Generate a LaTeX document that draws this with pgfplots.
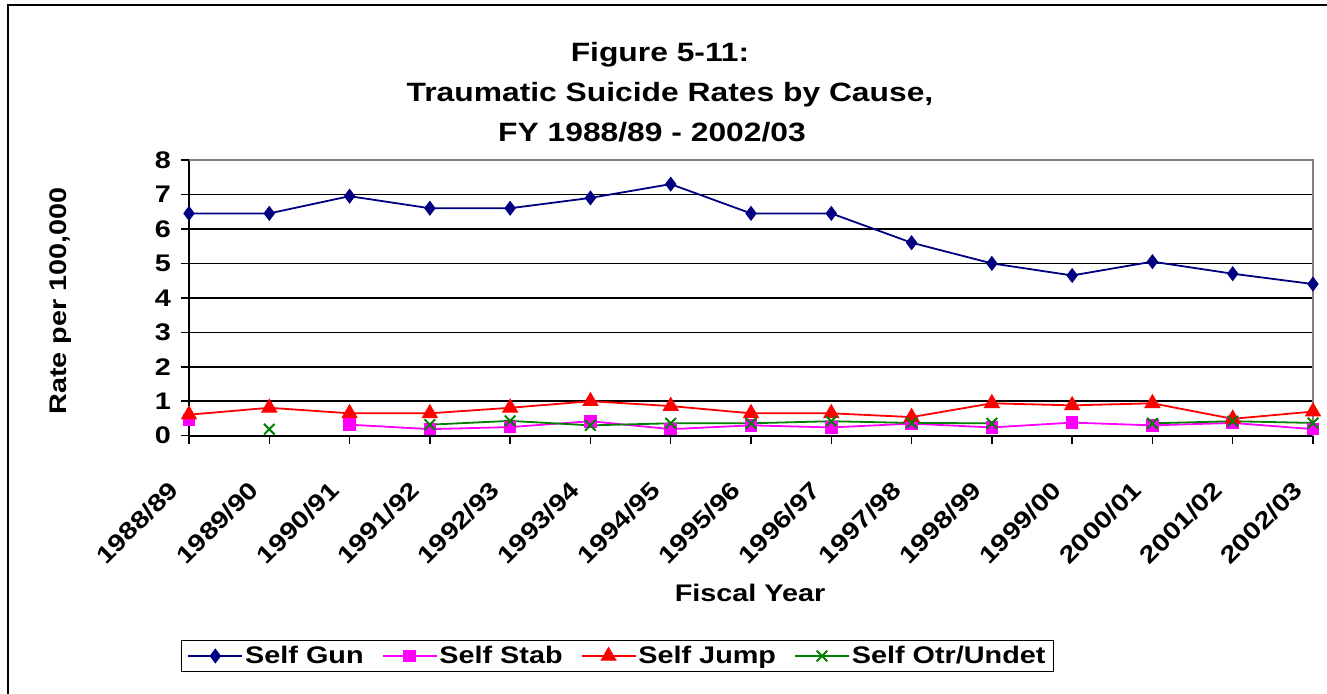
\documentclass[border=0pt]{standalone}
\usepackage{fontspec}
\setmainfont{Liberation Sans}[FakeStretch=1.2]
\usepackage{pgfplots}
\pgfplotsset{compat=1.18}
\usepackage{pgfplotstable}
\definecolor{gunblue}{RGB}{0,0,128}
\definecolor{otrgreen}{RGB}{0,128,0}
\definecolor{stabmag}{RGB}{255,0,255}

\pgfplotstableread{
x  gun   stab  jump  otr
0  6.45  0.45  0.61  nan
1  6.45  nan   0.81  0.19
2  6.95  0.32  0.65  nan
3  6.60  0.19  0.65  0.32
4  6.60  0.25  0.81  0.43
5  6.90  0.42  1.00  0.30
6  7.30  0.19  0.86  0.36
7  6.45  0.30  0.65  0.36
8  6.45  0.24  0.65  0.42
9  5.60  0.35  0.54  0.37
10 5.00  0.24  0.94  0.36
11 4.65  0.38  0.88  nan
12 5.05  0.30  0.94  0.36
13 4.70  0.37  0.49  0.42
14 4.40  0.19  0.70  0.37
}\datatable

\begin{document}
\begin{tikzpicture}
\useasboundingbox (0bp,0bp) rectangle (1327bp,694bp);
\draw[line width=2bp] (7.5bp,-10bp) rectangle (1345bp,688.5bp);
\node[font=\fontsize{26.5bp}{30bp}\selectfont\bfseries, anchor=base, inner sep=0pt] at (660bp,632bp) {Figure 5-11:};
\node[font=\fontsize{26.5bp}{30bp}\selectfont\bfseries, anchor=base, inner sep=0pt] at (670bp,592bp) {Traumatic Suicide Rates by Cause,};
\node[font=\fontsize{26.5bp}{30bp}\selectfont\bfseries, anchor=base, inner sep=0pt] at (652bp,552bp) {FY 1988/89 - 2002/03};
\node[font=\fontsize{24bp}{28bp}\selectfont\bfseries, anchor=base, inner sep=0pt] at (750bp,92bp) {Fiscal Year};
\node[font=\fontsize{24bp}{28bp}\selectfont\bfseries, anchor=base, inner sep=0pt, rotate=90] at (66bp,393bp) {Rate per 100,000};
\begin{axis}[
  at={(189bp,258.3bp)}, anchor=south west,
  scale only axis, width=1124bp, height=275.7bp,
  xmin=0, xmax=14, ymin=0, ymax=8,
  xtick={0,...,14},
  xticklabels={1988/89,1989/90,1990/91,1991/92,1992/93,1993/94,1994/95,1995/96,1996/97,1997/98,1998/99,1999/00,2000/01,2001/02,2002/03},
  ytick={0,...,8},
  ymajorgrids, grid style={black, line width=1.5bp},
  axis x line*=bottom, axis y line*=left,
  axis line style={black, line width=2bp},
  tick align=outside, major tick length=8bp,
  tick style={black, line width=1.5bp},
  clip=false,
  unbounded coords=jump,
  /pgf/number format/assume math mode=true,
  yticklabel style={font=\fontsize{24bp}{26bp}\selectfont\bfseries, inner sep=0pt, anchor=east, xshift=-10bp},
  xticklabel style={font=\fontsize{24bp}{26bp}\selectfont\bfseries, inner sep=0pt, xshift=-15bp, yshift=-42bp, rotate=45, anchor=east},
  legend style={at={(0.3812,-0.799)}, anchor=center, draw=black, line width=1.5bp,
    font=\fontsize{24bp}{26bp}\selectfont\bfseries, legend columns=4,
    inner xsep=6bp, inner ysep=4bp,
    /tikz/every even column/.append style={column sep=16bp}},
  legend image code/.code={\draw[#1, mark repeat=2, mark phase=2] plot coordinates {(0bp,0bp) (27bp,0bp) (54bp,0bp)};},
]
\draw[gray, line width=1.5bp] (rel axis cs:0,1) -- (rel axis cs:1,1) -- (rel axis cs:1,0);
\addplot[gunblue, line width=1.8bp, mark=diamond*, mark size=6.8bp, mark options={fill=gunblue, solid, line width=1bp}] table[x=x, y=gun] {\datatable};
\addlegendentry{Self Gun}
\addplot[stabmag, line width=1.8bp, mark=square*, mark size=5.8bp, mark options={fill=stabmag, solid, line width=1bp}] table[x=x, y=stab] {\datatable};
\addlegendentry{Self Stab}
\addplot[red, line width=1.8bp, mark=triangle*, mark size=8.5bp, mark options={fill=red, solid, line width=1bp}] table[x=x, y=jump] {\datatable};
\addlegendentry{Self Jump}
\addplot[otrgreen, line width=1.8bp, mark=x, mark size=7.5bp, mark options={solid, line width=2bp}] table[x=x, y=otr] {\datatable};
\addlegendentry{Self Otr/Undet}
\end{axis}
\end{tikzpicture}
\end{document}
